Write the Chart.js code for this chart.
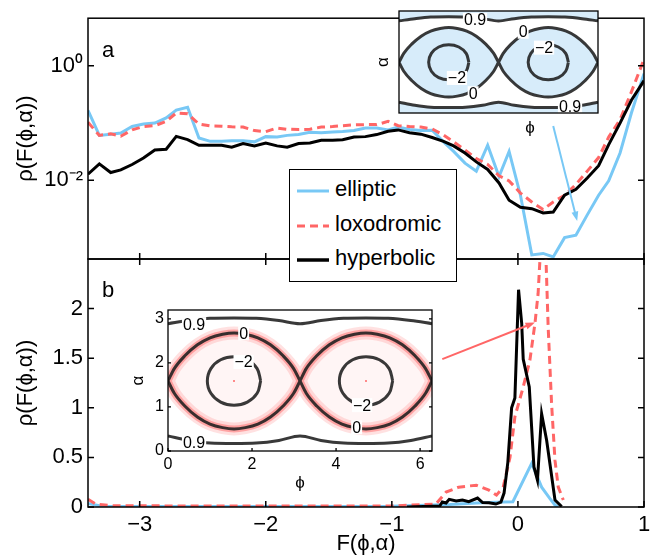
<!DOCTYPE html>
<html lang="en">
<head>
<meta charset="UTF-8">
<title>rho(F(phi,alpha))</title>
<script src="https://cdn.jsdelivr.net/npm/chart.js"></script>
<style>
  body { margin: 0; background: #fff; }
  #wrap { position: relative; width: 659px; height: 558px; font-family: 'Liberation Sans', Arial, sans-serif; }
  #wrap canvas { position: absolute; left: 0; top: 0; }
  #legend { position: absolute; left: 289px; top: 169px; width: 166px; height: 111px;
            border: 1px solid #000; background: #fff; font-size: 22px; }
  #legend .row { position: absolute; left: 0; height: 34px; width: 166px; }
  #legend svg { position: absolute; left: 7px; top: 15px; }
  #legend span { position: absolute; left: 45px; top: 3px; }
</style>
</head>
<body>
<div id="wrap">
  <canvas id="chartA" width="659" height="558"></canvas>
  <canvas id="chartB" width="659" height="558"></canvas>
  <canvas id="insetA" width="659" height="558"></canvas>
  <canvas id="insetB" width="659" height="558"></canvas>
  <div id="legend">
    <div class="row" style="top:3px"><svg width="32" height="6"><line x1="0" y1="3" x2="32" y2="3" stroke="#78c8f5" stroke-width="3"/></svg><span>elliptic</span></div>
    <div class="row" style="top:38px"><svg width="32" height="6"><line x1="0" y1="3" x2="32" y2="3" stroke="#ff6666" stroke-width="3" stroke-dasharray="8 5"/></svg><span>loxodromic</span></div>
    <div class="row" style="top:72px"><svg width="32" height="6"><line x1="0" y1="3" x2="32" y2="3" stroke="#000" stroke-width="3.5"/></svg><span>hyperbolic</span></div>
  </div>
</div>
<script>
// ---- panel a: log scale, common bins ----
const xA = [-3.41,-3.32,-3.23,-3.15,-3.06,-2.97,-2.88,-2.79,-2.71,-2.62,-2.53,-2.44,-2.35,-2.27,-2.18,-2.09,-2.00,-1.91,-1.83,-1.74,
            -1.65,-1.56,-1.47,-1.39,-1.30,-1.21,-1.12,-1.03,-0.95,-0.86,-0.77,-0.68,-0.59,-0.51,-0.42,-0.33,-0.24,-0.15,-0.07,0.02,
            0.11,0.20,0.28,0.37,0.46,0.55,0.64,0.72,0.81,0.90,1.00];
const ellA = [0.166,0.061,0.064,0.067,0.087,0.096,0.100,0.123,0.168,0.189,0.055,0.048,0.048,0.049,0.049,0.047,0.058,0.057,0.061,0.063,
              0.069,0.068,0.070,0.071,0.074,0.082,0.082,0.076,0.085,0.077,0.074,0.075,0.047,0.032,0.020,0.0145,0.041,0.0117,0.032,0.0055,
              0.0005,0.00053,0.00046,0.0010,0.0011,0.0025,0.0055,0.0098,0.030,0.15,0.73];
const loxA = [0.103,0.061,0.065,0.059,0.076,0.087,0.090,0.107,0.150,0.146,0.096,0.089,0.088,0.086,0.085,0.074,0.071,0.082,0.078,0.077,
              0.078,0.085,0.087,0.090,0.093,0.094,0.094,0.107,0.090,0.087,0.085,0.079,0.062,0.047,0.034,0.024,0.019,0.012,0.0098,0.006,
              0.0042,0.0031,0.0042,0.0055,0.0085,0.0145,0.025,0.057,0.115,0.35,1.3];
const hypA = [0.0128,0.0194,0.0137,0.0152,0.0189,0.0245,0.034,0.035,0.0586,0.0515,0.041,0.041,0.041,0.038,0.044,0.040,0.045,0.040,0.038,0.044,
              0.045,0.050,0.050,0.051,0.057,0.058,0.063,0.072,0.076,0.068,0.064,0.056,0.048,0.040,0.030,0.021,0.0155,0.009,0.0045,0.0034,
              0.0032,0.0027,0.0028,0.0055,0.0070,0.011,0.018,0.042,0.10,0.25,0.55];

// ---- panel b: linear scale ----
const ellBx = [-3.41,-3.3,-2.0,-1.0,-0.54,-0.33,-0.117,-0.04,0.109,0.188,0.254,0.294,0.32];
const ellBy = [0.035,0.008,0.005,0.008,0.025,0.04,0.05,0.053,0.44,0.2,0.085,0.02,0.0];
const loxBx = [-3.41,-3.35,-3.2,-2.0,-1.0,-0.65,-0.57,-0.47,-0.33,-0.23,-0.17,-0.117,-0.063,-0.024,0.042,0.095,0.135,0.16,0.205,0.24,0.267,0.294,0.32,0.36];
const loxBy = [0.077,0.03,0.012,0.01,0.01,0.03,0.15,0.2,0.22,0.17,0.12,0.2,0.5,0.91,1.21,1.48,1.85,2.15,3.2,1.81,1.04,0.47,0.2,0.07];
const hypBx = [-0.88,-0.62,-0.60,-0.57,-0.545,-0.49,-0.44,-0.39,-0.32,-0.28,-0.23,-0.175,-0.135,-0.11,-0.08,-0.05,-0.024,0.005,0.03,0.042,0.09,0.127,0.155,0.188,0.228,0.294,0.347];
const hypBy = [0.0,0.01,0.05,0.04,0.077,0.06,0.07,0.053,0.09,0.045,0.043,0.03,0.05,0.14,0.45,1.0,1.1,2.19,1.85,1.49,1.21,0.405,0.27,0.94,0.67,0.07,0.005];

// ---- axes ----
const xTicks = [-3,-2,-1,0,1];
const yTicksA = [0.01, 1];
const yLabelsA = ['10⁻²', '10⁰'];
const yTicksB = [0,0.5,1,1.5,2];
const phiTicks = [0,2,4,6];
const alphaTicks = [0,1,2,3];

// ---- inset contours F(phi,alpha) ----
const sepPhiL = [0,0.15,0.4,0.7,1.0,1.3,1.571,1.84,2.14,2.44,2.74,2.99,3.142];
const sepPhiR = [3.142,3.29,3.54,3.84,4.14,4.44,4.712,4.98,5.28,5.58,5.88,6.13,6.283];
const sepUp = [1.59,1.87,2.16,2.41,2.57,2.65,2.68,2.65,2.57,2.41,2.16,1.87,1.59];
const sepLo = [1.59,1.31,1.02,0.77,0.61,0.53,0.50,0.53,0.61,0.77,1.02,1.31,1.59];
const phi09 = [0,0.5,1.0,1.571,2.1,2.64,3.142,3.64,4.18,4.712,5.24,5.78,6.283];
const top09 = [2.89,2.96,3.01,3.02,3.01,2.96,2.89,2.96,3.01,3.02,3.01,2.96,2.89];
const bot09 = [0.34,0.24,0.18,0.17,0.18,0.24,0.34,0.24,0.18,0.17,0.18,0.24,0.34];
const circPhiL = [2.206,2.121,1.889,1.571,1.253,1.021,0.936,1.021,1.253,1.571,1.889,2.121,2.206];
const circPhiR = [5.348,5.263,5.031,4.712,4.394,4.163,4.078,4.163,4.394,4.712,5.031,5.263,5.348];
const circAl = [1.59,1.87,2.07,2.14,2.07,1.87,1.59,1.31,1.11,1.04,1.11,1.31,1.59];
const centres = [[1.571,1.59],[4.712,1.59]];
// contour labels [text, phi, alpha]
const labelsInA = [['0.9',2.40,2.92],['0.9',5.40,0.20],['0',2.34,0.62],['0',3.92,2.55],['−2',1.83,1.10],['−2',4.58,2.05]];
const labelsInB = [['0.9',0.62,2.88],['0.9',0.62,0.20],['0',1.80,2.67],['0',4.49,0.54],['−2',1.80,2.02],['−2',4.62,1.04]];

// ---- arrows (data coordinates of the panel they sit in) ----
const arrowA = [[0.28,0.089],[0.47,0.00195]];
const arrowB = [[-0.60,1.49],[0.135,1.86]];

const BLUE = '#78c8f5', RED = '#ff6666';
const FONT = "'Liberation Sans', Arial, Helvetica, sans-serif";
Chart.defaults.font.family = FONT;
Chart.defaults.color = '#000';

function pts(xs, ys) { return xs.map((x, i) => ({x: x, y: ys[i]})); }
function joined(lines) {
  const out = [];
  lines.forEach((l, i) => { if (i) out.push({x: l[0].x, y: null}); out.push(...l); });
  return out;
}
const minus = v => v < 0 ? '−' + (-v) : String(v);

// frame, inward ticks, labels, arrows
const framePlugin = {
  id: 'frame',
  beforeDraw(chart, args, o) {
    if (!o.white) return;
    const a = chart.chartArea, ctx = chart.ctx;
    ctx.save(); ctx.fillStyle = '#fff';
    ctx.fillRect(a.left, a.top, a.right - a.left, a.bottom - a.top);
    ctx.restore();
  },
  afterDatasetsDraw(chart, args, o) {
    const ctx = chart.ctx, a = chart.chartArea, x = chart.scales.x, y = chart.scales.y;
    ctx.save();
    // contour labels
    (o.labels || []).forEach(l => {
      ctx.font = o.labelFont;
      const px = x.getPixelForValue(l[1]), py = y.getPixelForValue(l[2]);
      const w = ctx.measureText(l[0]).width;
      ctx.fillStyle = '#fff';
      ctx.fillRect(px - w / 2 - 1, py - 7, w + 2, 14);
      ctx.fillStyle = '#000'; ctx.textAlign = 'center'; ctx.textBaseline = 'middle';
      ctx.fillText(l[0], px, py + 1);
    });
    // free axis text, offsets from the plot corner
    (o.texts || []).forEach(t => {
      ctx.font = t[3]; ctx.fillStyle = '#000'; ctx.textAlign = 'center'; ctx.textBaseline = 'middle';
      ctx.fillText(t[0], a.left + t[1], a.bottom + t[2]);
    });
    ctx.strokeStyle = '#000'; ctx.lineWidth = o.lw || 1.5;
    ctx.strokeRect(a.left, a.top, a.right - a.left, a.bottom - a.top);
    const L = o.len || 6;
    ctx.beginPath();
    (o.xTicks || []).forEach(v => {
      const p = x.getPixelForValue(v);
      ctx.moveTo(p, a.bottom); ctx.lineTo(p, a.bottom - L);
      if (o.topTicks) { ctx.moveTo(p, a.top); ctx.lineTo(p, a.top + L); }
    });
    (o.yTicks || []).forEach(v => {
      const p = y.getPixelForValue(v);
      ctx.moveTo(a.left, p); ctx.lineTo(a.left + L, p);
      ctx.moveTo(a.right, p); ctx.lineTo(a.right - L, p);
    });
    ctx.stroke();
    if (o.letter) {
      ctx.font = '22px ' + FONT; ctx.fillStyle = '#000';
      ctx.textAlign = 'left'; ctx.textBaseline = 'alphabetic';
      ctx.fillText(o.letter, a.left + 14, a.top + o.letterDy);
    }
    if (o.arrow) {
      const x0 = x.getPixelForValue(o.arrow[0][0]), y0 = y.getPixelForValue(o.arrow[0][1]);
      const x1 = x.getPixelForValue(o.arrow[1][0]), y1 = y.getPixelForValue(o.arrow[1][1]);
      const ang = Math.atan2(y1 - y0, x1 - x0), h = 10;
      ctx.strokeStyle = o.arrowColor; ctx.fillStyle = o.arrowColor; ctx.lineWidth = 2;
      ctx.beginPath(); ctx.moveTo(x0, y0); ctx.lineTo(x1 - 4 * Math.cos(ang), y1 - 4 * Math.sin(ang)); ctx.stroke();
      ctx.beginPath(); ctx.moveTo(x1, y1);
      ctx.lineTo(x1 - h * Math.cos(ang - 0.35), y1 - h * Math.sin(ang - 0.35));
      ctx.lineTo(x1 - h * Math.cos(ang + 0.35), y1 - h * Math.sin(ang + 0.35));
      ctx.closePath(); ctx.fill();
    }
    ctx.restore();
  }
};

const mainFont = {size: 22};
const yTitle = {display: true, text: 'ρ(F(ϕ,α))', font: mainFont, padding: {top: 13, bottom: 0}};

function lineSet(label, data, color, dash, width, order) {
  return {label: label, data: data, borderColor: color, borderDash: dash, borderWidth: width,
          pointRadius: 0, tension: 0, order: order, clip: 0};
}

// panel a
new Chart(document.getElementById('chartA'), {
  type: 'line',
  data: {datasets: [
    lineSet('elliptic', pts(xA, ellA), BLUE, [], 3, 3),
    lineSet('loxodromic', pts(xA, loxA), RED, [8, 5], 3, 2),
    lineSet('hyperbolic', pts(xA, hypA), '#000', [], 3, 1)
  ]},
  options: {
    responsive: false, animation: false,
    layout: {padding: {left: 0, top: 11, right: 15, bottom: 299}},
    scales: {
      x: {type: 'linear', display: false, min: -3.41, max: 1},
      y: {type: 'logarithmic', min: 4.24e-4, max: 6.77,
          afterFit: s => { s.width = 88; },
          afterBuildTicks: s => { s.ticks = yTicksA.map(v => ({value: v})); },
          grid: {display: false, drawTicks: false}, border: {display: false},
          ticks: {font: mainFont, padding: 5, callback: (v, i) => yLabelsA[i]},
          title: yTitle}
    },
    plugins: {legend: {display: false}, tooltip: {enabled: false},
      frame: {xTicks: xTicks, yTicks: yTicksA, letter: 'a', letterDy: 39, arrow: arrowA, arrowColor: BLUE}}
  },
  plugins: [framePlugin]
});

// panel b
new Chart(document.getElementById('chartB'), {
  type: 'line',
  data: {datasets: [
    lineSet('elliptic', pts(ellBx, ellBy), BLUE, [], 3, 3),
    lineSet('loxodromic', pts(loxBx, loxBy), RED, [8, 5], 3, 2),
    lineSet('hyperbolic', pts(hypBx, hypBy), '#000', [], 3, 1)
  ]},
  options: {
    responsive: false, animation: false,
    layout: {padding: {left: 0, top: 259, right: 15, bottom: 0}},
    scales: {
      x: {type: 'linear', min: -3.41, max: 1,
          afterFit: s => { s.height = 51; },
          afterBuildTicks: s => { s.ticks = xTicks.map(v => ({value: v})); },
          grid: {display: false, drawTicks: false}, border: {display: false},
          ticks: {font: mainFont, padding: 5, maxRotation: 0, callback: v => minus(v)},
          title: {display: true, text: 'F(ϕ,α)', font: mainFont, padding: {top: 0, bottom: 1}}},
      y: {type: 'linear', min: 0, max: 2.5,
          afterFit: s => { s.width = 88; },
          afterBuildTicks: s => { s.ticks = yTicksB.map(v => ({value: v})); },
          grid: {display: false, drawTicks: false}, border: {display: false},
          ticks: {font: mainFont, padding: 5, callback: v => String(v)},
          title: yTitle}
    },
    plugins: {legend: {display: false}, tooltip: {enabled: false},
      frame: {xTicks: xTicks, yTicks: yTicksB, topTicks: true, letter: 'b', letterDy: 38, arrow: arrowB, arrowColor: RED}}
  },
  plugins: [framePlugin]
});

// contour line datasets shared by both insets
function contourSets() {
  const ink = 'rgba(30,30,30,0.88)';
  return [
    {data: joined([pts(sepPhiL, sepUp), pts(sepPhiL, sepLo), pts(sepPhiR, sepUp), pts(sepPhiR, sepLo),
                   pts(phi09, top09), pts(phi09, bot09)]),
     borderColor: ink, borderWidth: 3, pointRadius: 0, cubicInterpolationMode: 'monotone', order: 1, clip: 0},
    {data: joined([pts(circPhiL, circAl), pts(circPhiR, circAl)]),
     borderColor: ink, borderWidth: 3, pointRadius: 0, tension: 0.4, order: 1, clip: 0}
  ];
}
function insetScales(withTicks, yWidth, xHeight, xTitle) {
  const t = {font: {size: 16}, padding: 4, display: withTicks};
  return {
    x: {type: 'linear', min: 0, max: 6.283,
        afterFit: s => { s.height = xHeight; },
        afterBuildTicks: s => { s.ticks = phiTicks.map(v => ({value: v})); },
        grid: {display: false, drawTicks: false}, border: {display: false},
        ticks: Object.assign({maxRotation: 0}, t),
        title: {display: xTitle, text: 'ϕ', font: {size: 17}, padding: {top: 0, bottom: 0}}},
    y: {type: 'linear', min: 0, max: 3.2,
        afterFit: s => { s.width = yWidth; },
        afterBuildTicks: s => { s.ticks = alphaTicks.map(v => ({value: v})); },
        grid: {display: false, drawTicks: false}, border: {display: false},
        ticks: t,
        title: {display: true, text: 'α', font: {size: 17}, padding: {top: 0, bottom: 0}}}
  };
}

// inset a: blue cloud
const cloudBlue = 'rgba(130,196,240,0.32)';
const fillSet = (data, fill, bg, order) => ({data: data, fill: fill, backgroundColor: bg, borderWidth: 0,
  pointRadius: 0, cubicInterpolationMode: 'monotone', order: order, clip: 0});
new Chart(document.getElementById('insetA'), {
  type: 'line',
  data: {datasets: [
    fillSet(pts(phi09, top09), 'end', cloudBlue, 5),
    fillSet(pts(phi09, bot09), 'start', cloudBlue, 5),
    fillSet(pts(sepPhiL, sepUp), '+1', cloudBlue, 5),
    fillSet(pts(sepPhiL, sepLo), false, cloudBlue, 5),
    fillSet(pts(sepPhiR, sepUp), '+1', cloudBlue, 5),
    fillSet(pts(sepPhiR, sepLo), false, cloudBlue, 5),
    ...contourSets()
  ]},
  options: {
    responsive: false, animation: false,
    layout: {padding: {left: 373, top: 11, right: 61, bottom: 420}},
    scales: insetScales(false, 26, 25, false),
    plugins: {legend: {display: false}, tooltip: {enabled: false},
      frame: {white: true, labels: labelsInA, labelFont: '16px ' + FONT, len: 0, lw: 1.3,
              texts: [['ϕ', 131, 15, '17px ' + FONT]]}}
  },
  plugins: [framePlugin]
});

// inset b: red cloud
const cloudRed = 'rgba(255,120,120,0.07)';
const sepAll = joined([pts(sepPhiL, sepUp), pts(sepPhiL, sepLo), pts(sepPhiR, sepUp), pts(sepPhiR, sepLo)]);
new Chart(document.getElementById('insetB'), {
  type: 'line',
  data: {datasets: [
    fillSet(pts(sepPhiL, sepUp), '+1', cloudRed, 6),
    fillSet(pts(sepPhiL, sepLo), false, cloudRed, 6),
    fillSet(pts(sepPhiR, sepUp), '+1', cloudRed, 6),
    fillSet(pts(sepPhiR, sepLo), false, cloudRed, 6),
    {data: sepAll, borderColor: 'rgba(255,90,90,0.18)', borderWidth: 13, pointRadius: 0, cubicInterpolationMode: 'monotone', order: 4, clip: 0},
    {data: sepAll, borderColor: 'rgba(255,90,90,0.45)', borderWidth: 7, pointRadius: 0, cubicInterpolationMode: 'monotone', order: 3, clip: 0},
    ...contourSets(),
    {data: centres.map(c => ({x: c[0], y: c[1]})), showLine: false, pointRadius: 1, pointBackgroundColor: RED, pointBorderWidth: 0, order: 0}
  ]},
  options: {
    responsive: false, animation: false,
    layout: {padding: {left: 128, top: 310, right: 227, bottom: 64}},
    scales: insetScales(true, 40, 43, true),
    plugins: {legend: {display: false}, tooltip: {enabled: false},
      frame: {white: true, labels: labelsInB, labelFont: '16px ' + FONT, xTicks: phiTicks, yTicks: alphaTicks, len: 3, lw: 1.3}}
  },
  plugins: [framePlugin]
});
</script>
</body>
</html>
